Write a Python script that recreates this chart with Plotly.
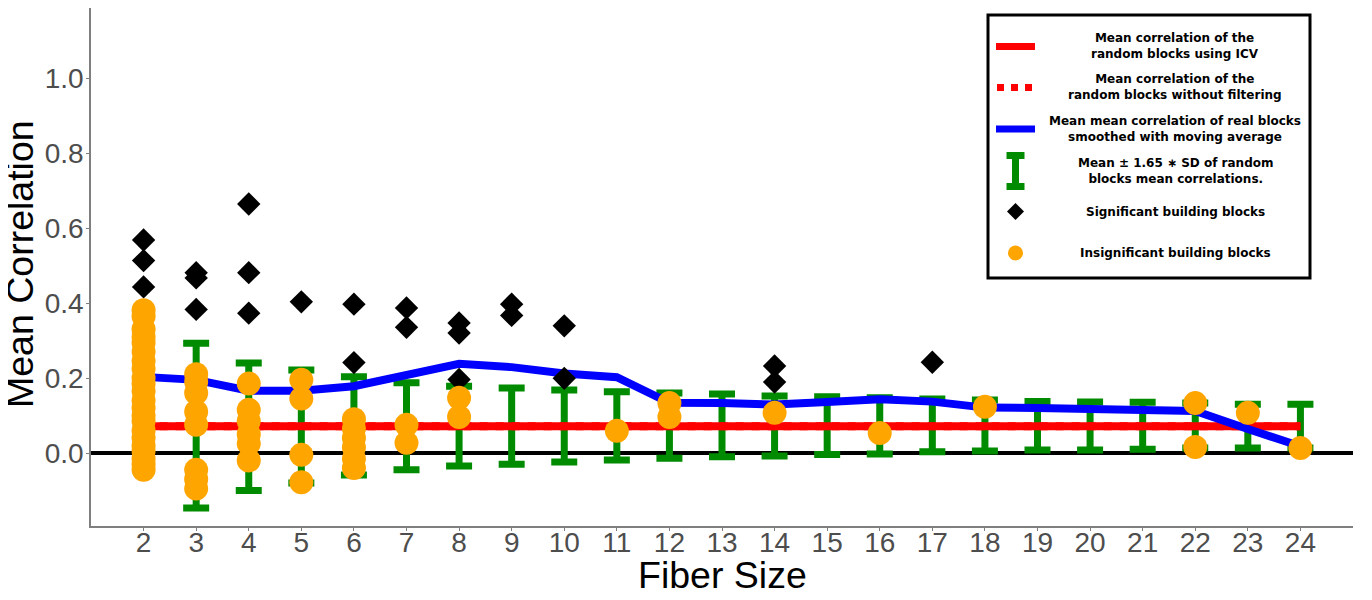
import plotly.graph_objects as go

# ---------------- data ----------------
fiber_sizes = list(range(2, 25))
tick_labels = [str(s) for s in fiber_sizes]

# random blocks mean correlation (ICV) and without filtering
icv_mean = [0.071] * len(fiber_sizes)
nofilter_mean = [0.071] * len(fiber_sizes)

# moving-average of real blocks mean correlation
real_ma = [0.203, 0.195, 0.166, 0.166, 0.178, 0.209, 0.238, 0.229, 0.212, 0.202,
           0.134, 0.133, 0.129, 0.136, 0.143, 0.137, 0.121, 0.120, 0.117, 0.115,
           0.112, 0.064, 0.018]

# Mean +/- 1.65 SD of random blocks (fiber sizes 3..24)
err_sizes = list(range(3, 25))
err_upper = [0.293, 0.240, 0.221, 0.203, 0.187, 0.178, 0.173, 0.168, 0.163, 0.160,
             0.157, 0.152, 0.150, 0.147, 0.144, 0.141, 0.137, 0.136, 0.135, 0.133,
             0.130, 0.130]
err_lower = [-0.147, -0.100, -0.080, -0.059, -0.045, -0.035, -0.030, -0.024, -0.019, -0.014,
             -0.010, -0.008, -0.004, -0.003, 0.003, 0.005, 0.008, 0.008, 0.010, 0.013,
             0.013, 0.013]

# significant building blocks
sig_x = [2, 2, 2, 3, 3, 3, 4, 4, 4, 5, 6, 6, 7, 7, 8, 8, 8, 9, 9, 10, 10, 14, 14, 17]
sig_y = [0.568, 0.513, 0.443, 0.481, 0.467, 0.383, 0.664, 0.481, 0.373, 0.403,
         0.397, 0.241, 0.387, 0.335, 0.347, 0.320, 0.196, 0.397, 0.367, 0.339,
         0.199, 0.232, 0.189, 0.242]

# insignificant building blocks
insig_x = ([2] * 22 + [3] * 8 + [4] * 6 + [5] * 4 + [6] * 6 + [7] * 2 + [8] * 2 +
           [11, 12, 12, 14, 16, 18, 22, 22, 23, 24])
insig_y = ([0.381, 0.365, 0.330, 0.310, 0.295, 0.270, 0.245, 0.225, 0.200, 0.185,
            0.165, 0.140, 0.120, 0.100, 0.085, 0.060, 0.040, 0.020, 0.005, -0.015,
            -0.030, -0.045] +
           [0.210, 0.190, 0.160, 0.110, 0.075, -0.045, -0.070, -0.095] +
           [0.185, 0.115, 0.085, 0.050, 0.025, -0.020] +
           [0.195, 0.145, -0.005, -0.078] +
           [0.090, 0.065, 0.040, 0.015, -0.015, -0.040] +
           [0.075, 0.027] +
           [0.147, 0.096] +
           [0.059, 0.133, 0.096, 0.107, 0.053, 0.123, 0.133, 0.016, 0.107, 0.013])

x_title = "Fiber Size"
y_title = "Mean Correlation"

legend_texts = [
    "Mean correlation of the<br>random blocks using ICV",
    "Mean correlation of the<br>random blocks without filtering",
    "Mean mean correlation of real blocks<br>smoothed with moving average",
    "Mean \u00b1 1.65 \u2217 SD of random<br>blocks mean correlations.",
    "Significant building blocks",
    "Insignificant building blocks",
]

RED = "#FF0000"
BLUE = "#0000FF"
GREEN = "#008B00"
ORANGE = "#FFA500"

err_mid = [(u + l) / 2 for u, l in zip(err_upper, err_lower)]
err_plus = [u - m for u, m in zip(err_upper, err_mid)]
err_minus = [m - l for m, l in zip(err_mid, err_lower)]

fig = go.Figure()
fig.add_trace(go.Scatter(
    x=err_sizes, y=err_mid, mode="markers",
    marker=dict(size=1, color="rgba(0,0,0,0)"),
    error_y=dict(type="data", symmetric=False, array=err_plus, arrayminus=err_minus,
                 color=GREEN, thickness=7, width=13),
    showlegend=False, hoverinfo="skip"))
fig.add_trace(go.Scatter(x=fiber_sizes, y=nofilter_mean, mode="lines",
                         line=dict(color=RED, width=8, dash="dot"), showlegend=False))
fig.add_trace(go.Scatter(x=fiber_sizes, y=icv_mean, mode="lines",
                         line=dict(color=RED, width=8), showlegend=False))
fig.add_trace(go.Scatter(x=fiber_sizes, y=real_ma, mode="lines",
                         line=dict(color=BLUE, width=8), showlegend=False))
fig.add_trace(go.Scatter(x=sig_x, y=sig_y, mode="markers",
                         marker=dict(symbol="diamond", size=18, color="black", line=dict(width=0)),
                         showlegend=False))
fig.add_trace(go.Scatter(x=insig_x, y=insig_y, mode="markers",
                         marker=dict(symbol="circle", size=24, color=ORANGE, line=dict(width=0)),
                         showlegend=False))

# ---------------- layout ----------------
# the page body adds an 8px offset, so the figure is 16px smaller than the window
OFF = 8
W, H = 1372 - 2 * OFF, 600 - 2 * OFF
# plot area in window pixels: x 91..1353, y 8..526
ML, MR, MT, MB = 91 - OFF, W - (1353 - OFF), 0, H - (526 - OFF)
PW, PH = W - ML - MR, H - MT - MB


def px(xp):  # window pixel -> paper x
    return (xp - OFF - ML) / PW


def py(yp):  # window pixel -> paper y
    return (H - MB - (yp - OFF)) / PH


axis_font = dict(family="Liberation Sans, Arial, sans-serif", size=28, color="#4D4D4D")
title_font = dict(family="Liberation Sans, Arial, sans-serif", size=37.5, color="black")

fig.update_layout(
    template="none",
    width=W, height=H,
    margin=dict(l=ML, r=MR, t=MT, b=MB, pad=0),
    paper_bgcolor="white", plot_bgcolor="white",
    showlegend=False,
    xaxis=dict(range=[1, 25], tickvals=fiber_sizes, ticktext=tick_labels,
               showgrid=False, zeroline=False, showline=True, linecolor="#7F7F7F", linewidth=1.5,
               ticks="outside", ticklen=3, tickcolor="#7F7F7F", tickwidth=1,
               tickfont=axis_font, automargin=False, ticklabelstandoff=-12),
    yaxis=dict(range=[(453 - 526) / 375, (453 - 8) / 375],
               tickvals=[0, 0.2, 0.4, 0.6, 0.8, 1.0],
               ticktext=["0.0", "0.2", "0.4", "0.6", "0.8", "1.0"],
               showgrid=False, zeroline=True, zerolinecolor="black", zerolinewidth=4,
               showline=True, linecolor="#7F7F7F", linewidth=1.5,
               ticks="outside", ticklen=3, tickcolor="#7F7F7F", tickwidth=1,
               tickfont=axis_font, automargin=False, ticklabelstandoff=-3),
)

# axis titles
fig.add_annotation(x=px(722), y=py(575), xref="paper", yref="paper", text=x_title,
                   showarrow=False, xanchor="center", yanchor="middle", font=title_font)
fig.add_annotation(x=px(20), y=py(264), xref="paper", yref="paper", text=y_title,
                   showarrow=False, xanchor="center", yanchor="middle", textangle=-90,
                   font=title_font)

# ---------------- custom legend box ----------------
shapes = []
shapes.append(dict(type="rect", xref="paper", yref="paper",
                   x0=px(988), x1=px(1310), y0=py(278), y1=py(15),
                   line=dict(color="black", width=3), fillcolor="white", layer="above"))
# red solid
shapes.append(dict(type="line", xref="paper", yref="paper", x0=px(996), x1=px(1035),
                   y0=py(46.5), y1=py(46.5), line=dict(color=RED, width=7), layer="above"))
# red dotted
shapes.append(dict(type="line", xref="paper", yref="paper", x0=px(997), x1=px(1035),
                   y0=py(87.5), y1=py(87.5), line=dict(color=RED, width=7, dash="dot"), layer="above"))
# blue
shapes.append(dict(type="line", xref="paper", yref="paper", x0=px(996), x1=px(1035),
                   y0=py(129), y1=py(129), line=dict(color=BLUE, width=7), layer="above"))
# green I
shapes.append(dict(type="line", xref="paper", yref="paper", x0=px(1015.5), x1=px(1015.5),
                   y0=py(152), y1=py(190), line=dict(color=GREEN, width=7), layer="above"))
for yy in (155.5, 186.5):
    shapes.append(dict(type="line", xref="paper", yref="paper", x0=px(1006.5), x1=px(1024.5),
                       y0=py(yy), y1=py(yy), line=dict(color=GREEN, width=7), layer="above"))
# diamond
cx, cy, r = 1015.5, 211.5, 8.5
shapes.append(dict(type="path", xref="paper", yref="paper",
                   path=f"M {px(cx)},{py(cy - r)} L {px(cx + r)},{py(cy)} L {px(cx)},{py(cy + r)} L {px(cx - r)},{py(cy)} Z",
                   fillcolor="black", line=dict(width=0), layer="above"))
# circle
cx, cy, r = 1015.5, 253, 7.5
shapes.append(dict(type="circle", xref="paper", yref="paper",
                   x0=px(cx - r), x1=px(cx + r), y0=py(cy + r), y1=py(cy - r),
                   fillcolor=ORANGE, line=dict(width=0), layer="above"))
fig.update_layout(shapes=shapes)

text_y = [46, 87.5, 128.5, 171, 211.5, 252.5]
leg_font = dict(family="DejaVu Sans, sans-serif", size=12, color="black")
for t, yy in zip(legend_texts, text_y):
    fig.add_annotation(x=px(1175), y=py(yy), xref="paper", yref="paper",
                       text=f"<b>{t}</b>", showarrow=False, align="center",
                       xanchor="center", yanchor="middle", font=leg_font)

fig.write_html("out.html")
